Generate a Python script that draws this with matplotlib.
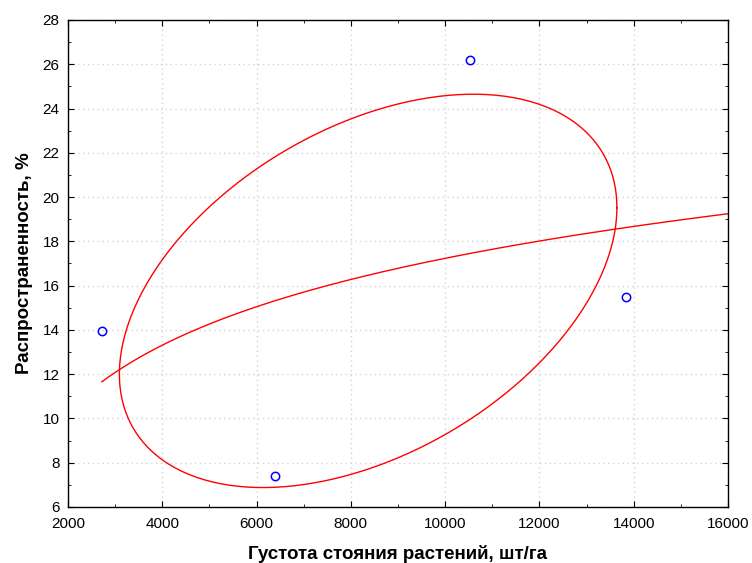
import numpy as np
import matplotlib.pyplot as plt

plt.rcParams['font.family'] = ['Liberation Sans', 'DejaVu Sans']

# данные
density = [2720, 6390, 10530, 13830]
spread = [13.95, 7.4, 26.2, 15.5]
xticks = [2000, 4000, 6000, 8000, 10000, 12000, 14000, 16000]
yticks = [6, 8, 10, 12, 14, 16, 18, 20, 22, 24, 26, 28]

x = np.array(density, dtype=float)
y = np.array(spread, dtype=float)

fig = plt.figure(figsize=(7.52, 5.63), dpi=100)
ax = fig.add_axes([0.0904, 0.0995, 0.8776, 0.865])

# логарифмическая регрессия
b, a = np.polyfit(np.log(x), y, 1)
xf = np.linspace(x.min(), 16000, 200)
ax.plot(xf, a + b * np.log(xf), color='red', lw=1)

# эллипс по ковариации
mx, my = x.mean(), y.mean()
sx, sy = x.std(ddof=1), y.std(ddof=1)
r = np.corrcoef(x, y)[0, 1]
t = np.linspace(0, 2 * np.pi, 300)
ex = mx + 1.09 * sx * np.cos(t)
ey = my + 1.14 * sy * (r * np.cos(t) + np.sqrt(1 - r ** 2) * np.sin(t))
ax.plot(ex, ey, color='red', lw=1)

ax.plot(x, y, 'o', mfc='none', mec='blue', ms=6, mew=1.1)

ax.set_xlim(2000, 16000)
ax.set_ylim(6, 28)
ax.set_xticks(xticks)
ax.set_yticks(yticks)
ax.set_xticks(np.arange(3000, 16000, 2000), minor=True)
ax.set_yticks(np.arange(7, 28, 2), minor=True)
ax.tick_params(which='both', direction='in', top=True, right=True, labelsize=11)
ax.tick_params(which='major', length=4)
ax.tick_params(which='minor', length=2.5)
ax.tick_params(axis='x', which='major', pad=7)
ax.tick_params(axis='y', which='major', pad=6)
ax.grid(True, which='major', ls=(0, (1, 2.5)), color='#d4d4d4', lw=1)
for s in ax.spines.values():
    s.set_linewidth(1)

ax.set_xlabel('Густота стояния растений, шт/га', fontsize=13.5, fontweight='bold', labelpad=10)
ax.set_ylabel('Распространенность, %', fontsize=13.5, fontweight='bold', labelpad=7)

fig.savefig('out.png', dpi=100)
